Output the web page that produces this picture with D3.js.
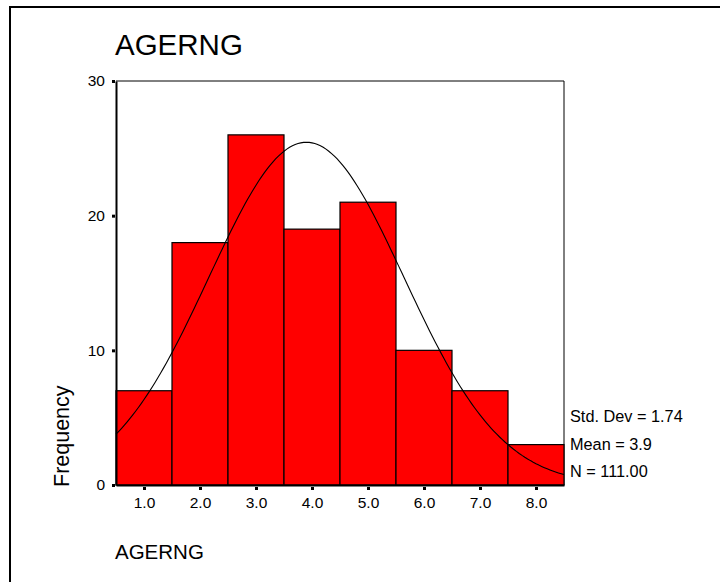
<!DOCTYPE html>
<html>
<head>
<meta charset="utf-8">
<script src="https://cdn.jsdelivr.net/npm/d3@7"></script>
<style>
  html, body { margin: 0; padding: 0; background: #fff; }
  svg { display: block; font-family: Arial, "Liberation Sans", sans-serif; }
</style>
</head>
<body>
<svg id="chart" width="720" height="582"></svg>
<script>
// ---- data ----
const binCenters = [1, 2, 3, 4, 5, 6, 7, 8];
const frequencies = [7, 18, 26, 19, 21, 10, 7, 3];
const xTickLabels = ["1.0", "2.0", "3.0", "4.0", "5.0", "6.0", "7.0", "8.0"];
const yTicks = [0, 10, 20, 30];
const statLines = ["Std. Dev = 1.74", "Mean = 3.9", "N = 111.00"];
const stdDev = 1.74;
const mean = 3.9;
const nTotal = 111;
const binWidth = 1;

const svg = d3.select("#chart");

// outer frame (right/bottom edges outside the window)
svg.append("rect")
  .attr("x", 10).attr("y", 7)
  .attr("width", 760).attr("height", 620)
  .attr("fill", "none").attr("stroke", "#000").attr("stroke-width", 2);

const x = d3.scaleLinear().domain([0.5, 8.5]).range([116, 564]);
const y = d3.scaleLinear().domain([0, 30]).range([485, 81]);

// plot frame top/right
svg.append("path")
  .attr("d", `M${x(0.5)},${y(30)}H${x(8.5)}V${y(0)}`)
  .attr("fill", "none").attr("stroke", "#000").attr("stroke-width", 1);

// bars
svg.append("g").selectAll("rect")
  .data(binCenters)
  .join("rect")
  .attr("x", (d) => x(d - binWidth / 2))
  .attr("width", (d) => x(d + binWidth / 2) - x(d - binWidth / 2))
  .attr("y", (d, i) => y(frequencies[i]))
  .attr("height", (d, i) => y(0) - y(frequencies[i]))
  .attr("fill", "#ff0000")
  .attr("stroke", "#000")
  .attr("stroke-width", 1.2);

// normal curve
const pts = d3.range(0, 161).map(k => 0.5 + k * 8 / 160);
const dens = v => nTotal * binWidth / (stdDev * Math.sqrt(2 * Math.PI)) *
  Math.exp(-0.5 * Math.pow((v - mean) / stdDev, 2));
svg.append("path")
  .datum(pts)
  .attr("d", d3.line().x(v => x(v)).y(v => y(dens(v))))
  .attr("fill", "none").attr("stroke", "#000").attr("stroke-width", 1.1);

// y axis
const yAxis = d3.axisLeft(y).tickValues(yTicks).tickSize(0).tickPadding(11)
  .tickFormat(d3.format("d"));
const gy = svg.append("g").attr("transform", `translate(${x(0.5)},0)`).call(yAxis);
gy.select(".domain").attr("stroke", "#000").attr("stroke-width", 2);
gy.selectAll(".tick text").attr("font-size", 15.5).attr("fill", "#000")
  .attr("font-family", "Arial, 'Liberation Sans', sans-serif");
gy.selectAll(".tick").append("rect")
  .attr("x", -4).attr("y", -1.5).attr("width", 3).attr("height", 3).attr("fill", "#000");

// x axis
const xAxis = d3.axisBottom(x).tickValues(binCenters).tickSize(0).tickPadding(12)
  .tickFormat((d, i) => xTickLabels[i]);
const gx = svg.append("g").attr("transform", `translate(0,${y(0)})`).call(xAxis);
gx.select(".domain").attr("stroke", "#000").attr("stroke-width", 2);
gx.selectAll(".tick text").attr("font-size", 15.5).attr("fill", "#000")
  .attr("font-family", "Arial, 'Liberation Sans', sans-serif");
gx.selectAll(".tick").append("rect")
  .attr("x", -1.5).attr("y", 2).attr("width", 3).attr("height", 3).attr("fill", "#000");

// title
svg.append("text").attr("x", 115).attr("y", 55)
  .attr("font-size", 29.5).attr("fill", "#000").text("AGERNG");

// x axis title
svg.append("text").attr("x", 115).attr("y", 559)
  .attr("font-size", 20.5).attr("fill", "#000").text("AGERNG");

// y axis title
svg.append("text")
  .attr("transform", "translate(69,487) rotate(-90)")
  .attr("font-size", 21.5).attr("fill", "#000").text("Frequency");

// stats
svg.append("g").selectAll("text")
  .data(statLines)
  .join("text")
  .attr("x", 570)
  .attr("y", (d, i) => 422 + i * 27.5)
  .attr("font-size", 16.3).attr("fill", "#000")
  .text(d => d);
</script>
</body>
</html>
